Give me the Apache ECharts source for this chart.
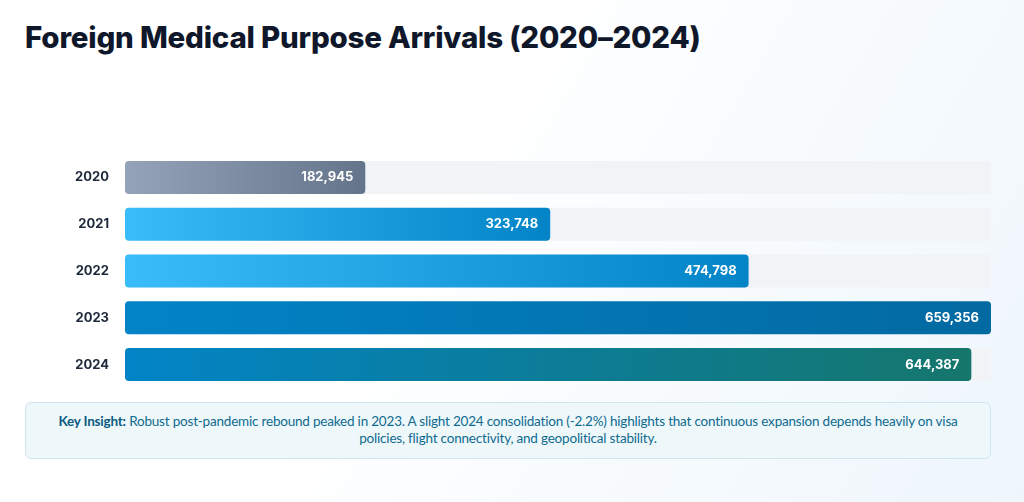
<!DOCTYPE html>
<html>
<head>
<meta charset="utf-8">
<script src="https://cdn.jsdelivr.net/npm/echarts@6/dist/echarts.min.js"></script>
<style>
  html, body { margin: 0; padding: 0; width: 1024px; height: 502px; overflow: hidden;
    background: linear-gradient(120deg, #ffffff 40%, #eef6fc 100%); font-family: Inter, sans-serif; }
  #title { position: absolute; left: 25px; top: 19px; font-size: 29.5px; font-weight: 800; color: #0f172a; letter-spacing: -0.2px; }
  #chart { position: absolute; left: 0; top: 0; width: 1024px; height: 400px; }
  #insight { position: absolute; left: 25px; top: 402px; width: 966px; height: 57px; box-sizing: border-box;
    border: 1px solid #cfe6ee; border-radius: 6px; background: #eef8fb; color: #0e6a8f;
    font-family: Lato, sans-serif; font-size: 13.5px; letter-spacing: -0.2px; line-height: 17px; text-align: center; padding: 10px 24px 0; }
  #insight b { color: #0a5a80; }
</style>
</head>
<body>
<div id="title">Foreign Medical Purpose Arrivals (2020–2024)</div>
<div id="chart"></div>
<div id="insight"><b>Key Insight:</b> Robust post-pandemic rebound peaked in 2023. A slight 2024 consolidation (-2.2%) highlights that continuous expansion depends heavily on visa policies, flight connectivity, and geopolitical stability.</div>
<script>
var years = ['2020', '2021', '2022', '2023', '2024'];
var arrivals = [182945, 323748, 474798, 659356, 644387];
var gradStops = [
  ['#94a3b8', '#64748b'],
  ['#38bdf8', '#0284c7'],
  ['#38bdf8', '#0284c7'],
  ['#0284c7', '#0369a1'],
  ['#0284c7', '#15766b']
];

var chart = echarts.init(document.getElementById('chart'));
var values = arrivals.map(function (v, i) {
  return {
    value: v,
    itemStyle: {
      color: new echarts.graphic.LinearGradient(0, 0, 1, 0, [
        {offset: 0, color: gradStops[i][0]},
        {offset: 1, color: gradStops[i][1]}
      ])
    }
  };
});

chart.setOption({
  animation: false,
  grid: {left: 125, right: 33, top: 154, height: 234},
  xAxis: {type: 'value', min: 0, max: 659356, show: false},
  yAxis: {
    type: 'category',
    data: years,
    inverse: true,
    axisLine: {show: false},
    axisTick: {show: false},
    axisLabel: {color: '#1e293b', fontWeight: 'bold', fontSize: 13, fontFamily: 'Inter', margin: 16}
  },
  series: [{
    type: 'bar',
    data: values,
    barWidth: 33,
    showBackground: true,
    backgroundStyle: {color: '#f1f3f7', borderRadius: 4},
    itemStyle: {borderRadius: 4},
    label: {
      show: true,
      position: 'insideRight',
      distance: 12,
      color: '#ffffff',
      fontWeight: 'bold',
      fontSize: 13,
      fontFamily: 'Inter',
      formatter: function (p) { return p.value.toLocaleString('en-US'); }
    }
  }]
});
</script>
</body>
</html>
